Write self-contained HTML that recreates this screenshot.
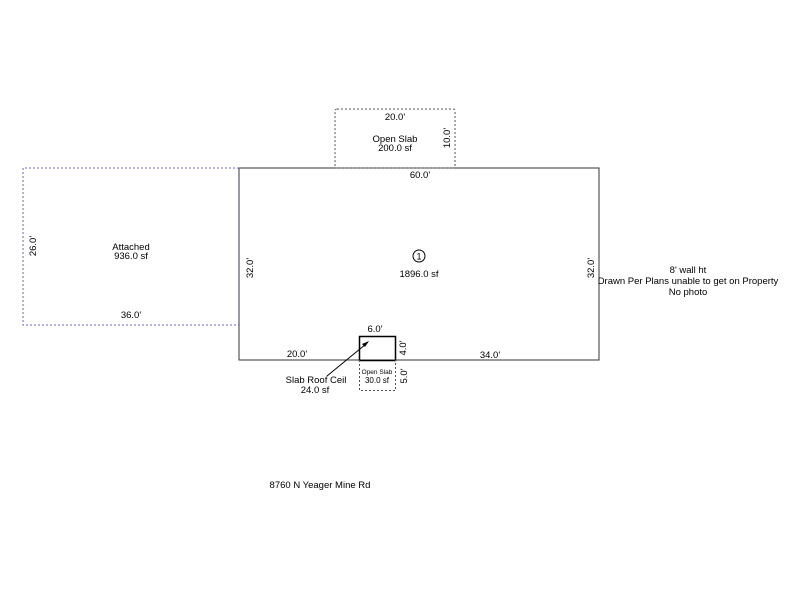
<!DOCTYPE html>
<html><head><style>body{margin:0;background:#fff}svg{display:block}text{font-family:"Liberation Sans",sans-serif;font-size:9.5px;fill:#000}</style></head><body>
<svg width="800" height="600" viewBox="0 0 800 600">
<rect x="239" y="168" width="360" height="192" fill="none" stroke="#333" stroke-width="1"/>
<path d="M239 168 H23 V325 H239" fill="none" stroke="#66c" stroke-width="1" stroke-dasharray="2,2"/>
<line x1="239" y1="168" x2="239" y2="325" stroke="#336" stroke-width="1" stroke-dasharray="2,2"/>
<rect x="335" y="109" width="120" height="59" rx="2" fill="none" stroke="#555" stroke-dasharray="2,2"/>
<rect x="359.5" y="336.5" width="36" height="24" fill="none" stroke="#000" stroke-width="1.5"/>
<path d="M359.5 360 V390.5 H395.5 V360" fill="none" stroke="#555" stroke-dasharray="2,2"/>
<line x1="327" y1="376" x2="366" y2="344" stroke="#000"/>
<path d="M369 341 L362 344 L365 347 Z" fill="#000"/>
<circle cx="419" cy="256" r="6" fill="none" stroke="#000"/>
<text x="419" y="259.5" text-anchor="middle" style="font-size:9px">1</text>
<text x="419" y="277" text-anchor="middle">1896.0 sf</text>
<text x="420" y="178" text-anchor="middle">60.0'</text>
<text x="395" y="120" text-anchor="middle">20.0'</text>
<text x="395" y="142" text-anchor="middle">Open Slab</text>
<text x="395" y="151" text-anchor="middle">200.0 sf</text>
<text transform="translate(450,138) rotate(-90)" text-anchor="middle">10.0'</text>
<text x="131" y="250" text-anchor="middle">Attached</text>
<text x="131" y="259" text-anchor="middle">936.0 sf</text>
<text transform="translate(36,246) rotate(-90)" text-anchor="middle">26.0'</text>
<text x="131" y="318" text-anchor="middle">36.0'</text>
<text transform="translate(253,268) rotate(-90)" text-anchor="middle">32.0'</text>
<text transform="translate(594,268) rotate(-90)" text-anchor="middle">32.0'</text>
<text x="297" y="357" text-anchor="middle">20.0'</text>
<text x="490" y="358" text-anchor="middle">34.0'</text>
<text x="375" y="332" text-anchor="middle">6.0'</text>
<text transform="translate(406,348) rotate(-90)" text-anchor="middle">4.0'</text>
<text transform="translate(407,376) rotate(-90)" text-anchor="middle">5.0'</text>
<text x="377" y="374" text-anchor="middle" style="font-size:6.5px">Open Slab</text>
<text x="377" y="383" text-anchor="middle" style="font-size:8px">30.0 sf</text>
<text x="316" y="383" text-anchor="middle">Slab Roof Ceil</text>
<text x="315" y="393" text-anchor="middle">24.0 sf</text>
<text x="688" y="273" text-anchor="middle">8' wall ht</text>
<text x="688" y="284" text-anchor="middle">Drawn Per Plans unable to get on Property</text>
<text x="688" y="295" text-anchor="middle">No photo</text>
<text x="320" y="488" text-anchor="middle">8760 N Yeager Mine Rd</text>
</svg>
</body></html>
